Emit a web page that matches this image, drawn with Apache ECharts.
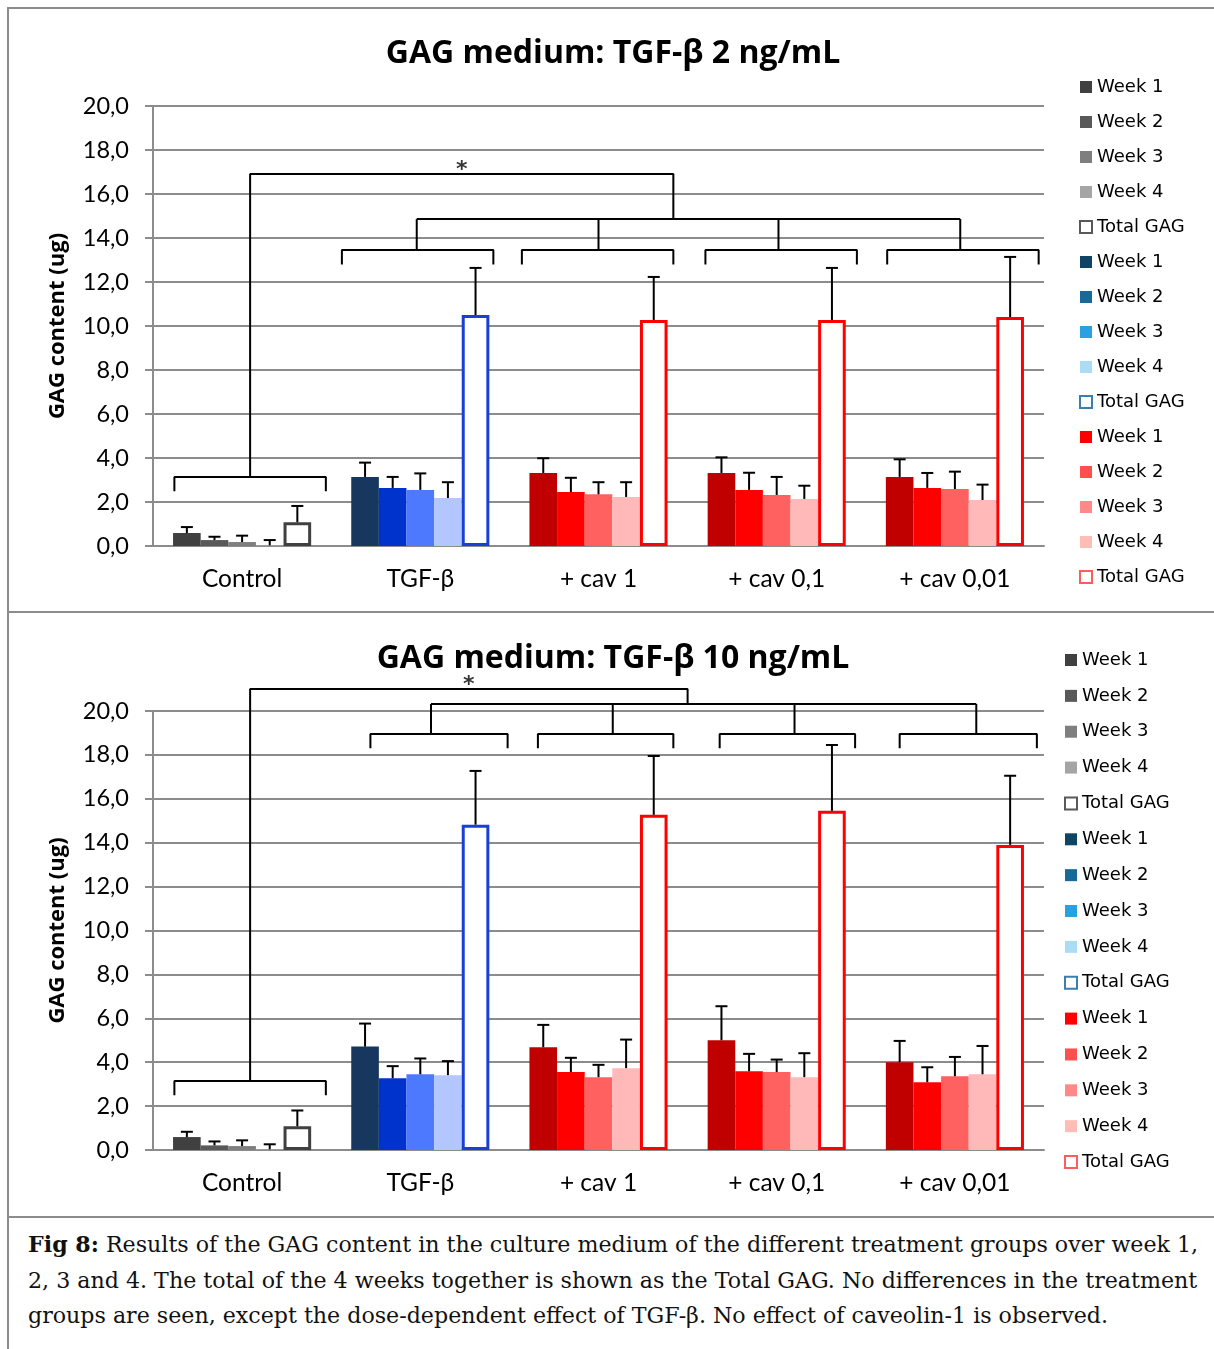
<!DOCTYPE html>
<html>
<head>
<meta charset="utf-8">
<script src="https://cdn.jsdelivr.net/npm/echarts@6/dist/echarts.min.js"></script>
<style>
body { margin: 0; background: #fff; }
#wrap { position: relative; width: 1214px; height: 1349px; overflow: hidden; }
#chart { position: absolute; left: 0; top: 0; width: 1214px; height: 1217px; }
.hl { position: absolute; left: 8px; right: 0; height: 2px; background: #8c8c8c; }
.vl { position: absolute; left: 7px; top: 7px; bottom: 0; width: 2px; background: #8c8c8c; }
#caption { position: absolute; left: 28px; top: 1227px; font-family: 'DejaVu Serif', serif; font-size: 22.15px; line-height: 35.5px; white-space: nowrap; color: #111; }
</style>
</head>
<body>
<div id="wrap">
  <div id="chart"></div>
  <div class="vl"></div>
  <div class="hl" style="top:7px"></div>
  <div class="hl" style="top:611px"></div>
  <div class="hl" style="top:1216px"></div>
  <div id="caption"><b>Fig 8:</b> Results of the GAG content in the culture medium of the different treatment groups over week 1,<br>2, 3 and 4. The total of the 4 weeks together is shown as the Total GAG. No differences in the treatment<br>groups are seen, except the dose-dependent effect of TGF-β. No effect of caveolin-1 is observed.</div>
</div>
<script>
// categorieen en namen
const categories = ['Control', 'TGF-β', '+ cav 1', '+ cav 0,1', '+ cav 0,01']
const weekNames = ['Week 1', 'Week 2', 'Week 3', 'Week 4', 'Total GAG']
const titles = ['GAG medium: TGF-β 2 ng/mL', 'GAG medium: TGF-β 10 ng/mL']
const groupOf = [0, 1, 2, 2, 2] // 0 = control, 1 = TGF-β, 2 = cav

// TGF-β 2 ng/mL
const low_w1 = [0.59, 3.14, 3.32, 3.32, 3.14]
const low_w1_sd = [0.27, 0.65, 0.67, 0.71, 0.80]
const low_w2 = [0.27, 2.64, 2.45, 2.55, 2.64]
const low_w2_sd = [0.15, 0.50, 0.65, 0.78, 0.68]
const low_w3 = [0.18, 2.55, 2.35, 2.32, 2.59]
const low_w3_sd = [0.29, 0.75, 0.55, 0.82, 0.79]
const low_w4 = [0.03, 2.18, 2.23, 2.14, 2.09]
const low_w4_sd = [0.24, 0.72, 0.67, 0.60, 0.70]
const low_total = [1.08, 10.50, 10.27, 10.27, 10.41]
const low_total_sd = [0.74, 2.14, 1.96, 2.37, 2.73]

// TGF-β 10 ng/mL
const high_w1 = [0.59, 4.71, 4.68, 5.00, 4.00]
const high_w1_sd = [0.24, 1.05, 1.02, 1.55, 0.97]
const high_w2 = [0.21, 3.27, 3.55, 3.59, 3.09]
const high_w2_sd = [0.18, 0.55, 0.65, 0.79, 0.68]
const high_w3 = [0.18, 3.45, 3.32, 3.55, 3.36]
const high_w3_sd = [0.26, 0.72, 0.56, 0.57, 0.88]
const high_w4 = [0.03, 3.41, 3.73, 3.32, 3.45]
const high_w4_sd = [0.23, 0.64, 1.30, 1.09, 1.29]
const high_total = [1.08, 14.82, 15.27, 15.45, 13.90]
const high_total_sd = [0.72, 2.45, 2.68, 3.00, 3.15]

// significantie haken (x in categorie-eenheden, y in ug)
const low_spans = [[-0.38, 0.47], [0.56, 1.41], [1.57, 2.42], [2.60, 3.45], [3.62, 4.47]]
const low_links = [0.98, 2.00, 3.01, 4.03]
const low_levels = { control: 3.14, treat: 13.45, mid: 14.86, top: 16.91, topEnd: 2.42 }
const high_spans = [[-0.38, 0.47], [0.72, 1.49], [1.66, 2.42], [2.68, 3.44], [3.69, 4.46]]
const high_links = [1.06, 2.08, 3.10, 4.12]
const high_levels = { control: 3.14, treat: 18.95, mid: 20.32, top: 21.0, topEnd: 2.50 }

const panels = [
  { values: [low_w1, low_w2, low_w3, low_w4, low_total], sds: [low_w1_sd, low_w2_sd, low_w3_sd, low_w4_sd, low_total_sd], spans: low_spans, links: low_links, levels: low_levels },
  { values: [high_w1, high_w2, high_w3, high_w4, high_total], sds: [high_w1_sd, high_w2_sd, high_w3_sd, high_w4_sd, high_total_sd], spans: high_spans, links: high_links, levels: high_levels }
]

// kleuren balken
const barColors = [
  ['#404040', '#595959', '#7f7f7f', '#a6a6a6', '#404040'],
  ['#17375e', '#0033cc', '#4d79ff', '#b3c6ff', '#1a3fd6'],
  ['#c00000', '#ff0000', '#ff6060', '#ffb9b9', '#ff0000']
]
// kleuren legenda (wijken af van de balken, zoals in het origineel)
const legendColors = [
  ['#404040', '#595959', '#7f7f7f', '#a5a5a5', '#595959'],
  ['#0f4564', '#17699a', '#29a0e0', '#abdcf5', '#3b7fb0'],
  ['#ff0000', '#ff4f4f', '#ff8888', '#ffbdb5', '#ff5c5c']
]

const CAT_GAP = 0.225
const gridTop = [106, 711]
const gridHeight = [440, 439]
const legendLeft = [1074, 1059]
const legendTop = [73, 646]
const legendGap = [17, 17.86]
const titleY = [54, 659]

function seriesName (group, week) {
  return weekNames[week] + '\u200b'.repeat(group)
}

function renderErr (params, api) {
  const cat = api.value(0)
  const val = api.value(1)
  const sd = api.value(2)
  const slot = api.value(3)
  const catW = api.size([1, 0])[0]
  const groupW = catW * (1 - CAT_GAP)
  const barW = groupW / 5
  const x = api.coord([cat, 0])[0] - groupW / 2 + barW * (slot + 0.5)
  const y0 = api.coord([cat, val])[1]
  const y1 = api.coord([cat, val + sd])[1]
  const st = { stroke: '#000', lineWidth: 2 }
  return {
    type: 'group',
    children: [
      { type: 'line', shape: { x1: x, y1: y0, x2: x, y2: y1 }, style: st },
      { type: 'line', shape: { x1: x - 6, y1: y1, x2: x + 6, y2: y1 }, style: st }
    ]
  }
}

function bracketPaths (spans, links, lv) {
  const drop = 0.65
  const paths = []
  spans.forEach((s, i) => {
    const y = i === 0 ? lv.control : lv.treat
    paths.push([[s[0], y - drop], [s[0], y], [s[1], y], [s[1], y - drop]])
  })
  links.forEach(x => paths.push([[x, lv.treat], [x, lv.mid]]))
  paths.push([[links[0], lv.mid], [links[links.length - 1], lv.mid]])
  const c = (spans[0][0] + spans[0][1]) / 2
  paths.push([[c, lv.control], [c, lv.top], [lv.topEnd, lv.top], [lv.topEnd, lv.mid]])
  return paths
}

const grid = []
const xAxis = []
const yAxis = []
const legend = []
const series = []
const graphic = []

panels.forEach((p, g) => {
  grid.push({ left: 153, right: 170, top: gridTop[g], height: gridHeight[g] })
  xAxis.push({
    type: 'category',
    gridIndex: g,
    data: categories,
    axisLine: { lineStyle: { color: '#8c8c8c', width: 2 } },
    axisTick: { length: 8, lineStyle: { color: '#8c8c8c', width: 2 } },
    axisLabel: { color: '#000', fontSize: 24.5, fontFamily: 'Lato', margin: 21 }
  })
  xAxis.push({ type: 'value', gridIndex: g, min: -0.5, max: 4.5, show: false })
  yAxis.push({
    type: 'value',
    gridIndex: g,
    min: 0,
    max: 20,
    interval: 2,
    name: 'GAG content (ug)',
    nameLocation: 'middle',
    nameGap: 84,
    nameTextStyle: { color: '#000', fontSize: 22, fontWeight: 'bold', fontFamily: 'Open Sans' },
    axisLine: { show: true, onZero: false, lineStyle: { color: '#8c8c8c', width: 2 } },
    axisTick: { show: true, length: 8, lineStyle: { color: '#8c8c8c', width: 2 } },
    splitLine: { lineStyle: { color: '#8c8c8c', width: 2 } },
    axisLabel: {
      color: '#000',
      fontSize: 23.5,
      fontFamily: 'Lato',
      margin: 24,
      formatter: v => v.toFixed(1).replace('.', ',')
    }
  })

  // balken: per week 3 series (control / TGF-β / cav) in één stack zodat er 5 plekken per categorie zijn
  for (let j = 0; j < 5; j++) {
    for (let k = 0; k < 3; k++) {
      const data = p.values[j].map((v, i) => (groupOf[i] === k ? v : '-'))
      const itemStyle = j < 4
        ? { color: barColors[k][j] }
        : { color: '#fff', borderColor: barColors[k][j], borderWidth: 3 }
      series.push({
        type: 'bar',
        name: seriesName(k, j),
        xAxisIndex: g * 2,
        yAxisIndex: g,
        stack: 'p' + g + 'w' + j,
        barCategoryGap: (CAT_GAP * 100) + '%',
        barGap: '0%',
        data: data,
        itemStyle: itemStyle,
        silent: true
      })
    }
  }

  // foutbalken
  const errData = []
  for (let j = 0; j < 5; j++) {
    p.values[j].forEach((v, i) => errData.push([i, v, p.sds[j][i], j]))
  }
  series.push({
    type: 'custom',
    xAxisIndex: g * 2,
    yAxisIndex: g,
    data: errData,
    encode: { x: 0, y: 1 },
    renderItem: renderErr,
    silent: true,
    z: 4
  })

  // haken
  bracketPaths(p.spans, p.links, p.levels).forEach(path => {
    series.push({
      type: 'line',
      xAxisIndex: g * 2 + 1,
      yAxisIndex: g,
      data: path,
      symbol: 'none',
      clip: false,
      silent: true,
      lineStyle: { color: '#000', width: 2 },
      z: 5
    })
  })
  const starX = ((p.spans[0][0] + p.spans[0][1]) / 2 + p.levels.topEnd) / 2
  series.push({
    type: 'scatter',
    xAxisIndex: g * 2 + 1,
    yAxisIndex: g,
    data: [[starX, p.levels.top]],
    symbolSize: 0,
    clip: false,
    silent: true,
    label: { show: true, formatter: '*', position: 'top', distance: -7, color: '#000', fontSize: 22, fontWeight: 'bold', fontFamily: 'DejaVu Sans' }
  })

  // legenda
  const ldata = []
  for (let k = 0; k < 3; k++) {
    for (let j = 0; j < 5; j++) {
      ldata.push({
        name: seriesName(k, j),
        icon: 'rect',
        itemStyle: j < 4
          ? { color: legendColors[k][j], borderWidth: 0 }
          : { color: '#fff', borderColor: legendColors[k][j], borderWidth: 2 }
      })
    }
  }
  legend.push({
    orient: 'vertical',
    left: legendLeft[g],
    top: legendTop[g],
    itemWidth: 12,
    itemHeight: 12,
    itemGap: legendGap[g],
    selectedMode: false,
    data: ldata,
    formatter: n => n.replace(/\u200b/g, ''),
    textStyle: { color: '#000', fontSize: 18, fontFamily: 'DejaVu Sans' }
  })

  graphic.push({
    type: 'text',
    x: 613,
    y: titleY[g],
    style: { text: titles[g], fill: '#000', font: 'bold 32px "Open Sans"', textAlign: 'center', textVerticalAlign: 'middle' }
  })
})

const chart = echarts.init(document.getElementById('chart'))
chart.setOption({
  animation: false,
  textStyle: { fontFamily: 'Lato' },
  grid: grid,
  xAxis: xAxis,
  yAxis: yAxis,
  legend: legend,
  graphic: graphic,
  series: series
})
</script>
</body>
</html>
